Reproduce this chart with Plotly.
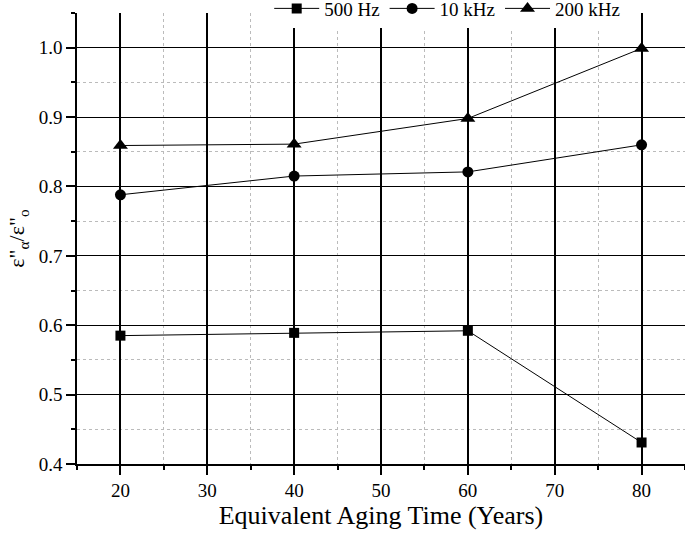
import plotly.graph_objects as go

years = [20, 40, 60, 80]
hz500 = [0.585, 0.589, 0.592, 0.431]
khz10 = [0.788, 0.815, 0.821, 0.860]
khz200 = [0.859, 0.861, 0.898, 0.999]

series = [("500 Hz", hz500, "square", 10), ("10 kHz", khz10, "circle", 11), ("200 kHz", khz200, "triangle-up", 13)]

fig = go.Figure()
for name, vals, sym, sz in series:
    fig.add_trace(go.Scatter(x=years, y=vals, name=name, mode="lines+markers",
                             line=dict(color="black", width=1),
                             marker=dict(symbol=sym, size=sz, color="black")))

font = "Liberation Serif, Times New Roman, serif"
fig.update_layout(
    width=685, height=533,
    margin=dict(l=77, r=0, t=13, b=69, autoexpand=False),
    paper_bgcolor="white", plot_bgcolor="white",
    font=dict(family=font, color="black", size=19),
    showlegend=True,
    legend=dict(orientation="h", x=0.393, xanchor="left", xref="container",
                y=0.984, yanchor="middle", yref="container",
                bgcolor="white", font=dict(size=19, color="black"), itemwidth=45,
                tracegroupgap=0, borderwidth=0),
    xaxis=dict(range=[15, 85], dtick=10, tick0=0, showline=True, linecolor="black", linewidth=1.5,
               ticks="outside", ticklen=9, tickwidth=1.5, tickcolor="black",
               showgrid=True, gridcolor="black", gridwidth=1.5, zeroline=False,
               minor=dict(dtick=5, tick0=0, ticks="outside", ticklen=4, tickcolor="black",
                          showgrid=True, gridcolor="#bbbbbb", griddash="dot", gridwidth=1),
               title=dict(text="Equivalent Aging Time (Years)", font=dict(size=26, color="black"), standoff=6),
               ticklabelstandoff=-1,
               tickfont=dict(size=19)),
    yaxis=dict(range=[0.4, 1.05], dtick=0.1, tick0=0, tickformat=".1f", showline=True,
               linecolor="black", linewidth=1.5,
               ticks="outside", ticklen=9, tickwidth=1.5, tickcolor="black",
               showgrid=True, gridcolor="black", gridwidth=1, zeroline=False,
               minor=dict(dtick=0.05, tick0=0, ticks="outside", ticklen=4, tickcolor="black",
                          showgrid=True, gridcolor="#bbbbbb", griddash="dot", gridwidth=1),
               title=dict(text="ε\"<sub>α</sub>/ε\"<sub>o</sub>", font=dict(size=22, color="black"), standoff=8),
               tickfont=dict(size=19)),
)

fig.write_html("out.html", config={"displayModeBar": False},
               post_script="document.body.style.margin='0px';")
